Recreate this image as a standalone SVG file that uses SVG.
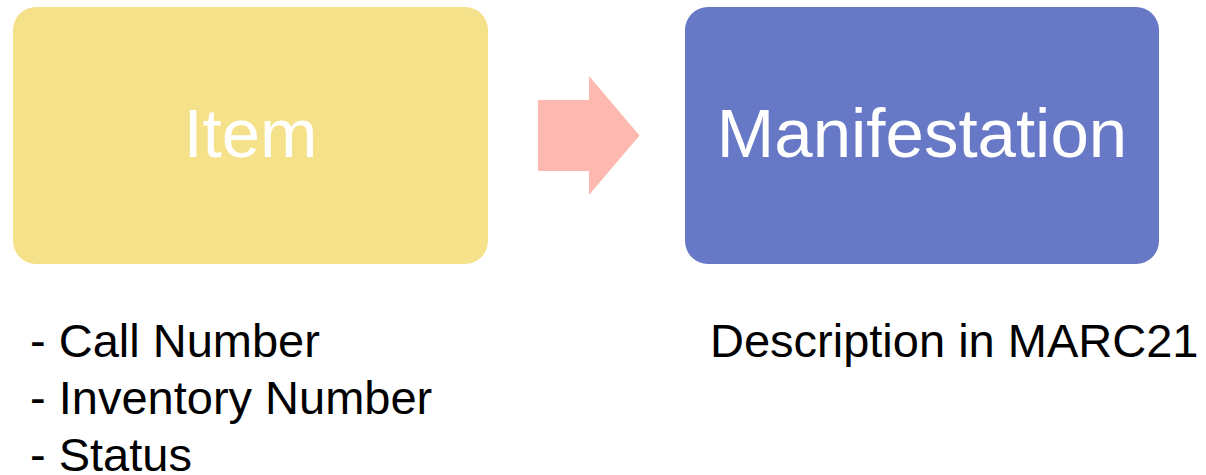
<svg xmlns="http://www.w3.org/2000/svg" width="1206" height="475" viewBox="0 0 1206 475">
<style>
.box-label{font-family:"Liberation Sans",Arial,sans-serif;font-size:69px;fill:#FFFFFF;text-anchor:middle}
.note{font-family:"Liberation Sans",Arial,sans-serif;font-size:47px;fill:#000000}
</style>
<rect width="1206" height="475" fill="#FFFFFF"/>
<g id="item">
<rect x="13" y="7" width="475" height="257" rx="23" ry="23" fill="#F5E18A"/>
<text class="box-label" x="250.5" y="157">Item</text>
</g>
<g id="manifestation">
<rect x="685" y="7" width="474" height="257" rx="23" ry="23" fill="#6779C6"/>
<text class="box-label" x="922" y="157">Manifestation</text>
</g>
<g id="connectors">
<polygon points="538,100 589,100 589,76 639.5,135.5 589,195 589,171 538,171" fill="#FDB9B0"/>
</g>
<g id="item-notes">
<text class="note" x="30" y="357">- Call Number</text>
<text class="note" x="30" y="414">- Inventory Number</text>
<text class="note" x="30" y="471">- Status</text>
</g>
<g id="manifestation-notes">
<text class="note" x="710" y="357">Description in MARC21</text>
</g>
</svg>
